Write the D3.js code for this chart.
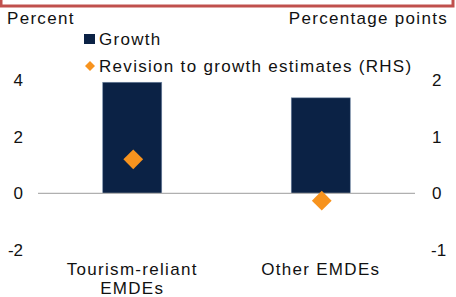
<!DOCTYPE html>
<html>
<head>
<meta charset="utf-8">
<script src="https://cdn.jsdelivr.net/npm/d3@7"></script>
<style>
  body { margin: 0; background: #fff; }
  text { font-family: "Liberation Sans", Arial, sans-serif; fill: #111; }
</style>
</head>
<body>
<div id="chart"></div>
<script>
var categories = ["Tourism-reliant EMDEs", "Other EMDEs"];
var catLines = [["Tourism-reliant", "EMDEs"], ["Other EMDEs"]];
var growth = [3.92, 3.37];
var revision = [0.6, -0.13];
var leftTicks = [-2, 0, 2, 4];
var rightTicks = [-1, 0, 1, 2];

var width = 456, height = 297;
var svg = d3.select("#chart").append("svg")
            .attr("width", width)
            .attr("height", height);

// red frame edge showing at the top
svg.append("rect")
   .attr("x", 1).attr("y", -20)
   .attr("width", 452).attr("height", 26)
   .attr("fill", "none")
   .attr("stroke", "#c0504d")
   .attr("stroke-width", 3);

var x = d3.scaleBand().domain(categories).range([38, 415]);
var yL = d3.scaleLinear().domain([-2, 4]).range([250, 80]);
var yR = d3.scaleLinear().domain([-1, 2]).range([250, 80]);

var fs = "17px", ls = "1.3px";

// axis labels
svg.append("text").attr("x", 7).attr("y", 24)
   .style("font-size", fs).style("letter-spacing", ls).text("Percent");
svg.append("text").attr("x", 448).attr("y", 24).attr("text-anchor", "end")
   .style("font-size", fs).style("letter-spacing", ls).text("Percentage points");

// tick labels
svg.selectAll(".lt").data(leftTicks).enter().append("text")
   .attr("class", "lt")
   .attr("x", 23).attr("y", d => yL(d) + 6)
   .attr("text-anchor", "end")
   .style("font-size", fs)
   .text(d => d);
svg.selectAll(".rt").data(rightTicks).enter().append("text")
   .attr("class", "rt")
   .attr("x", d => d < 0 ? 431 : 432).attr("y", d => yR(d) + 6)
   .style("font-size", fs)
   .text(d => d);

// bars
var bw = 59;
svg.selectAll(".bar").data(growth).enter().append("rect")
   .attr("class", "bar")
   .attr("x", (d, i) => x(categories[i]) + x.bandwidth() / 2 - bw / 2)
   .attr("y", d => yL(d))
   .attr("width", bw)
   .attr("height", d => yL(0) - yL(d))
   .attr("fill", "#0b2245")
   .attr("stroke", "#6f86a3")
   .attr("stroke-width", 0.6);

// zero line
svg.append("line")
   .attr("x1", 38).attr("x2", 415)
   .attr("y1", yL(0)).attr("y2", yL(0))
   .attr("stroke", "#b0b0b0").attr("stroke-width", 1.2);

// diamonds
var diamond = d3.symbol().type(d3.symbolSquare).size(195);
svg.selectAll(".dia").data(revision).enter().append("path")
   .attr("class", "dia")
   .attr("d", diamond)
   .attr("transform", (d, i) => "translate(" + (x(categories[i]) + x.bandwidth() / 2 + 1) + "," + yR(d) + ") rotate(45)")
   .attr("fill", "#f7931e");

// category labels
catLines.forEach(function(lines, i) {
    var t = svg.append("text")
               .attr("x", x(categories[i]) + x.bandwidth() / 2)
               .attr("y", 275)
               .attr("text-anchor", "middle")
               .style("font-size", fs).style("letter-spacing", ls);
    lines.forEach(function(l, j) {
        t.append("tspan")
         .attr("x", x(categories[i]) + x.bandwidth() / 2)
         .attr("dy", j === 0 ? 0 : 19)
         .text(l);
    });
});

// legend
svg.append("rect").attr("x", 84).attr("y", 34).attr("width", 11).attr("height", 10)
   .attr("fill", "#0b2245");
svg.append("text").attr("x", 99).attr("y", 45)
   .style("font-size", fs).style("letter-spacing", ls).text("Growth");
svg.append("path")
   .attr("d", d3.symbol().type(d3.symbolSquare).size(50))
   .attr("transform", "translate(90,66) rotate(45)")
   .attr("fill", "#f7931e");
svg.append("text").attr("x", 99).attr("y", 72)
   .style("font-size", fs).style("letter-spacing", ls).text("Revision to growth estimates (RHS)");
</script>
</body>
</html>
